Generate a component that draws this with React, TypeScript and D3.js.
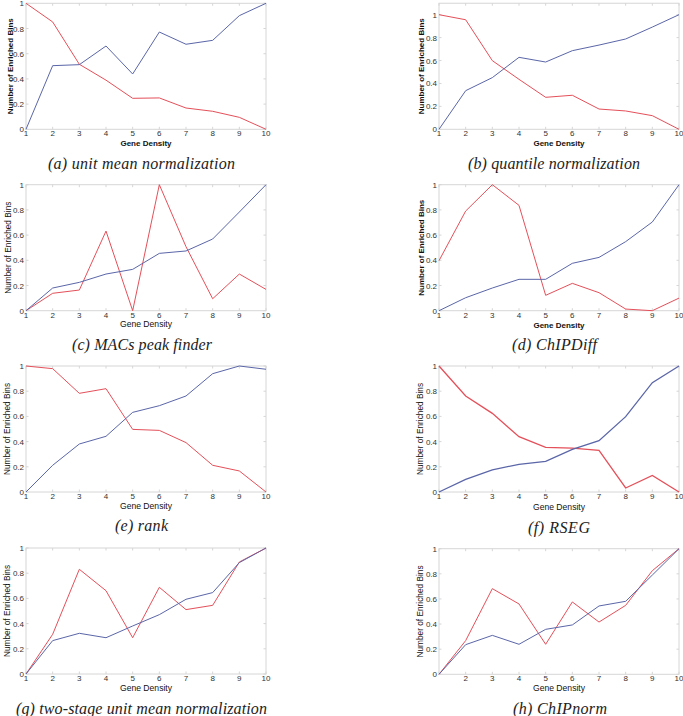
import React from "react";
import * as d3 from "d3";

const geneDensity = [1, 2, 3, 4, 5, 6, 7, 8, 9, 10];
const yTicks = [0, 0.2, 0.4, 0.6, 0.8, 1];
const yTickLabels = ["0", "0.2", "0.4", "0.6", "0.8", "1"];
const xTickLabels = ["1", "2", "3", "4", "5", "6", "7", "8", "9", "10"];

const captions = [
  "(a) unit mean normalization",
  "(b) quantile normalization",
  "(c) MACs peak finder",
  "(d) ChIPDiff",
  "(e) rank",
  "(f) RSEG",
  "(g) two-stage unit mean normalization",
  "(h) ChIPnorm",
];

const unitMeanBlue = [0, 0.505, 0.513, 0.661, 0.439, 0.772, 0.675, 0.706, 0.902, 1];
const unitMeanRed = [1, 0.852, 0.516, 0.39, 0.246, 0.249, 0.169, 0.143, 0.095, 0];
const quantileBlue = [0, 0.337, 0.451, 0.628, 0.587, 0.686, 0.735, 0.788, 0.892, 1];
const quantileRed = [1, 0.956, 0.599, 0.436, 0.279, 0.297, 0.177, 0.16, 0.119, 0];
const macsBlue = [0, 0.18, 0.225, 0.291, 0.328, 0.455, 0.474, 0.569, 0.783, 1];
const macsRed = [0, 0.138, 0.164, 0.632, 0, 1, 0.508, 0.095, 0.291, 0.169];
const chipDiffBlue = [0, 0.103, 0.18, 0.249, 0.249, 0.376, 0.423, 0.548, 0.704, 1];
const chipDiffRed = [0.397, 0.791, 1, 0.836, 0.122, 0.217, 0.143, 0.013, 0, 0.1];
const rankBlue = [0, 0.212, 0.381, 0.442, 0.632, 0.685, 0.762, 0.939, 1, 0.974];
const rankRed = [1, 0.979, 0.783, 0.82, 0.497, 0.489, 0.392, 0.212, 0.167, 0];
const rsegBlue = [0, 0.1, 0.175, 0.22, 0.243, 0.339, 0.407, 0.598, 0.868, 1];
const rsegRed = [1, 0.762, 0.624, 0.439, 0.354, 0.349, 0.331, 0.032, 0.132, 0];
const twoStageBlue = [0, 0.265, 0.323, 0.288, 0.381, 0.471, 0.593, 0.646, 0.884, 1];
const twoStageRed = [0, 0.315, 0.831, 0.661, 0.288, 0.688, 0.511, 0.545, 0.889, 1];
const chipNormBlue = [0, 0.236, 0.31, 0.239, 0.358, 0.393, 0.544, 0.581, 0.79, 1];
const chipNormRed = [0, 0.268, 0.682, 0.56, 0.239, 0.576, 0.416, 0.549, 0.825, 1];

const BLUE = "#5b66a8";
const RED = "#e4505a";
const FRAME = "#d6d6d6";
const TICKTXT = "#333";

type Panel = {
  caption: string;
  blue: number[];
  red: number[];
  left: number;
  right: number;
  y1: number;
  y0: number;
  ymax: number;
  bold: boolean;
  ylabX: number;
  xlabY: number;
  capX: number;
  capY: number;
  capW: number;
  showX1: boolean;
  lw: number;
};

const panels: Panel[] = [
  { caption: captions[0], blue: unitMeanBlue, red: unitMeanRed, left: 26, right: 266, y1: 3.3, y0: 129.3, ymax: 1, bold: true, ylabX: 12.5, xlabY: 145.7, capX: 141.5, capY: 168.5, capW: 187, showX1: true, lw: 1 },
  { caption: captions[1], blue: quantileBlue, red: quantileRed, left: 439, right: 679, y1: 14.7, y0: 129.3, ymax: 1.1, bold: true, ylabX: 423.5, xlabY: 146, capX: 554, capY: 168.5, capW: 172, showX1: true, lw: 1 },
  { caption: captions[2], blue: macsBlue, red: macsRed, left: 26, right: 266, y1: 184.7, y0: 310.7, ymax: 1, bold: false, ylabX: 11, xlabY: 327, capX: 142, capY: 350, capW: 140, showX1: true, lw: 1 },
  { caption: captions[3], blue: chipDiffBlue, red: chipDiffRed, left: 439, right: 679, y1: 184.7, y0: 310.7, ymax: 1, bold: true, ylabX: 423.5, xlabY: 327.5, capX: 554.5, capY: 350, capW: 85, showX1: true, lw: 1 },
  { caption: captions[4], blue: rankBlue, red: rankRed, left: 26, right: 266, y1: 366, y0: 492, ymax: 1, bold: false, ylabX: 9.5, xlabY: 508.5, capX: 141.5, capY: 530.7, capW: 53, showX1: true, lw: 1 },
  { caption: captions[5], blue: rsegBlue, red: rsegRed, left: 439, right: 679, y1: 366, y0: 492, ymax: 1, bold: false, ylabX: 422.5, xlabY: 510, capX: 559, capY: 533, capW: 62, showX1: true, lw: 1.3 },
  { caption: captions[6], blue: twoStageBlue, red: twoStageRed, left: 26, right: 266, y1: 548, y0: 674, ymax: 1, bold: false, ylabX: 10, xlabY: 690.5, capX: 141.5, capY: 714, capW: 251, showX1: true, lw: 1 },
  { caption: captions[7], blue: chipNormBlue, red: chipNormRed, left: 439, right: 679, y1: 548.7, y0: 674.3, ymax: 1, bold: false, ylabX: 423, xlabY: 691, capX: 560, capY: 713.7, capW: 94, showX1: false, lw: 1 },
];

function PanelView({ p }: { p: Panel }) {
  const x = d3.scaleLinear().domain([1, 10]).range([p.left, p.right]);
  const y = d3.scaleLinear().domain([0, 1]).range([p.y0, p.y1]);
  const top = y(p.ymax);
  const line = d3
    .line<number>()
    .x((_, i) => x(geneDensity[i]))
    .y((d) => y(d));
  const tl = 2.5;
  const fw = p.bold ? "bold" : "normal";
  const labSize = p.bold ? 8 : 8.6;
  const ylabSize = p.bold ? 8 : 8.3;
  const midY = (p.y0 + top) / 2;
  const midX = (p.left + p.right) / 2;
  return (
    <g>
      <rect x={p.left} y={top} width={p.right - p.left} height={p.y0 - top} fill="none" stroke={FRAME} strokeWidth={1} />
      {geneDensity.map((v) => (
        <g key={"xt" + v}>
          <line x1={x(v)} x2={x(v)} y1={p.y0} y2={p.y0 - tl} stroke={FRAME} />
          <line x1={x(v)} x2={x(v)} y1={top} y2={top + tl} stroke={FRAME} />
        </g>
      ))}
      {yTicks.map((v) => (
        <g key={"yt" + v}>
          <line x1={p.left} x2={p.left + tl} y1={y(v)} y2={y(v)} stroke={FRAME} />
          <line x1={p.right} x2={p.right - tl} y1={y(v)} y2={y(v)} stroke={FRAME} />
        </g>
      ))}
      <path d={line(p.red) || ""} fill="none" stroke={RED} strokeWidth={p.lw} />
      <path d={line(p.blue) || ""} fill="none" stroke={BLUE} strokeWidth={p.lw} />
      {geneDensity.map((v, i) =>
        !p.showX1 && i === 0 ? null : (
          <text key={"xl" + v} x={x(v)} y={p.y0 + 7} fontSize={8} fill={TICKTXT} textAnchor="middle" fontFamily="Liberation Sans, Arial, sans-serif">
            {xTickLabels[i]}
          </text>
        )
      )}
      {yTicks.map((v, i) => (
        <text key={"yl" + v} x={p.left - 2} y={y(v) + 3} fontSize={8} fill={TICKTXT} textAnchor="end" fontFamily="Liberation Sans, Arial, sans-serif">
          {yTickLabels[i]}
        </text>
      ))}
      <text x={midX} y={p.xlabY} fontSize={labSize} fontWeight={fw} fill="#111" textAnchor="middle" fontFamily="Liberation Sans, Arial, sans-serif">
        Gene Density
      </text>
      <text
        transform={`translate(${p.ylabX},${midY}) rotate(-90)`}
        fontSize={ylabSize}
        fontWeight={fw}
        fill="#111"
        textAnchor="middle"
        fontFamily="Liberation Sans, Arial, sans-serif"
      >
        Number of Enriched Bins
      </text>
      <text
        x={p.capX - p.capW / 2}
        y={p.capY}
        fontSize={16}
        fontStyle="italic"
        fill="#222"
        fontFamily="Liberation Serif, DejaVu Serif, serif"
        textLength={p.capW}
        lengthAdjust="spacing"
      >
        {p.caption}
      </text>
    </g>
  );
}

export default function App() {
  return (
    <svg
      width={683}
      height={716}
      viewBox="0 0 683 716"
      style={{ position: "absolute", left: 0, top: 0, display: "block", background: "#fff" }}
    >
      <rect x={0} y={0} width={683} height={716} fill="#fff" />
      {panels.map((p, i) => (
        <PanelView key={i} p={p} />
      ))}
    </svg>
  );
}
